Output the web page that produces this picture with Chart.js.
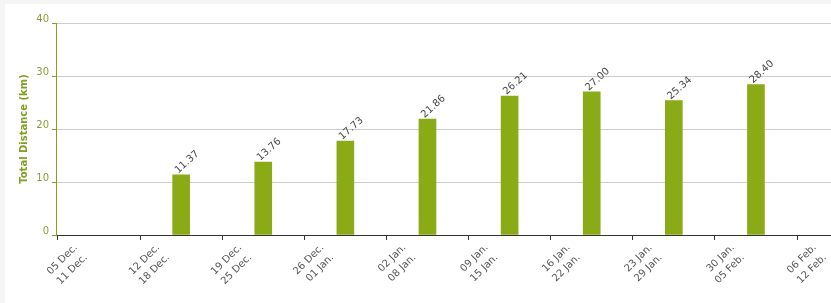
<!DOCTYPE html>
<html>
<head>
<meta charset="utf-8">
<script src="https://cdn.jsdelivr.net/npm/chart.js@4/dist/chart.umd.min.js"></script>
<style>
  html, body { margin: 0; padding: 0; background: #f5f5f5; width: 831px; height: 303px; overflow: hidden; }
  #card { position: absolute; left: 5px; top: 4px; right: 0; bottom: 0; background: #ffffff; }
  #wrap { position: absolute; left: 0; top: 0; width: 831px; height: 303px; }
</style>
</head>
<body>
<div id="card"></div>
<div id="wrap"><canvas id="c" width="831" height="303"></canvas></div>
<script>
// Week start / end labels (one tick per week)
const weekStarts = ['05 Dec.', '12 Dec.', '19 Dec.', '26 Dec.', '02 Jan.', '09 Jan.', '16 Jan.', '23 Jan.', '30 Jan.', '06 Feb.'];
const weekEnds   = ['11 Dec.', '18 Dec.', '25 Dec.', '01 Jan.', '08 Jan.', '15 Jan.', '22 Jan.', '29 Jan.', '05 Feb.', '12 Feb.'];
// Total distance per week (km); null = no activity
const distances  = [null, 11.37, 13.76, 17.73, 21.86, 26.21, 27.00, 25.34, 28.40, null];
const yTicks     = [0, 10, 20, 30, 40];

const points = distances.map((v, i) => ({ x: i + 0.5, y: v }));

const barLabels = {
  id: 'barLabels',
  afterDatasetsDraw(chart) {
    const ctx = chart.ctx;
    const meta = chart.getDatasetMeta(0);
    ctx.save();
    ctx.font = '10px "DejaVu Sans"';
    ctx.fillStyle = '#484848';
    ctx.textAlign = 'left';
    ctx.textBaseline = 'alphabetic';
    meta.data.forEach((el, i) => {
      const v = distances[i];
      if (v === null || v === undefined) return;
      ctx.save();
      ctx.translate(el.x - 3, el.y - 1);
      ctx.rotate(-42 * Math.PI / 180);
      ctx.fillText(v.toFixed(2), 0, 0);
      ctx.restore();
    });
    ctx.restore();
  }
};

new Chart(document.getElementById('c'), {
  type: 'bar',
  data: {
    datasets: [{
      data: points,
      backgroundColor: '#8aaa16',
      borderWidth: 0,
      barThickness: 17
    }]
  },
  options: {
    responsive: false,
    animation: false,
    devicePixelRatio: 1,
    layout: { padding: { left: 0, top: 23, right: 0, bottom: 0 } },
    plugins: { legend: { display: false }, tooltip: { enabled: false } },
    scales: {
      x: {
        type: 'linear',
        min: -0.024,
        max: 9.414,
        offset: false,
        afterBuildTicks: (scale) => { scale.ticks = weekStarts.map((_, i) => ({ value: i })); },
        afterFit: (scale) => { scale.height = 303 - 235; },
        border: { color: '#333333', width: 1 },
        grid: { drawOnChartArea: false, tickLength: 5, color: '#333333', offset: false },
        ticks: {
          autoSkip: false,
          maxRotation: 45,
          minRotation: 45,
          labelOffset: 18,
          padding: 1,
          color: '#555555',
          font: { family: '"DejaVu Sans"', size: 10, lineHeight: 1.4 },
          callback: (value, index) => [weekStarts[index], weekEnds[index]]
        }
      },
      y: {
        min: 0,
        max: 40,
        afterBuildTicks: (scale) => { scale.ticks = yTicks.map(v => ({ value: v })); },
        afterFit: (scale) => { scale.width = 56; },
        border: { color: '#8a9c1c', width: 1 },
        grid: { color: '#cccccc', tickColor: '#8a9c1c', tickLength: 4, lineWidth: 1 },
        ticks: {
          padding: 3,
          labelOffset: -4,
          color: '#8c9c3c',
          font: { family: '"DejaVu Sans"', size: 10 }
        },
        title: {
          display: true,
          text: 'Total Distance (km)',
          color: '#7f9f1f',
          font: { family: '"DejaVu Sans"', size: 10, weight: 'bold', lineHeight: 1.2 },
          padding: { top: 18, bottom: 0 }
        }
      }
    }
  },
  plugins: [barLabels]
});
</script>
</body>
</html>
